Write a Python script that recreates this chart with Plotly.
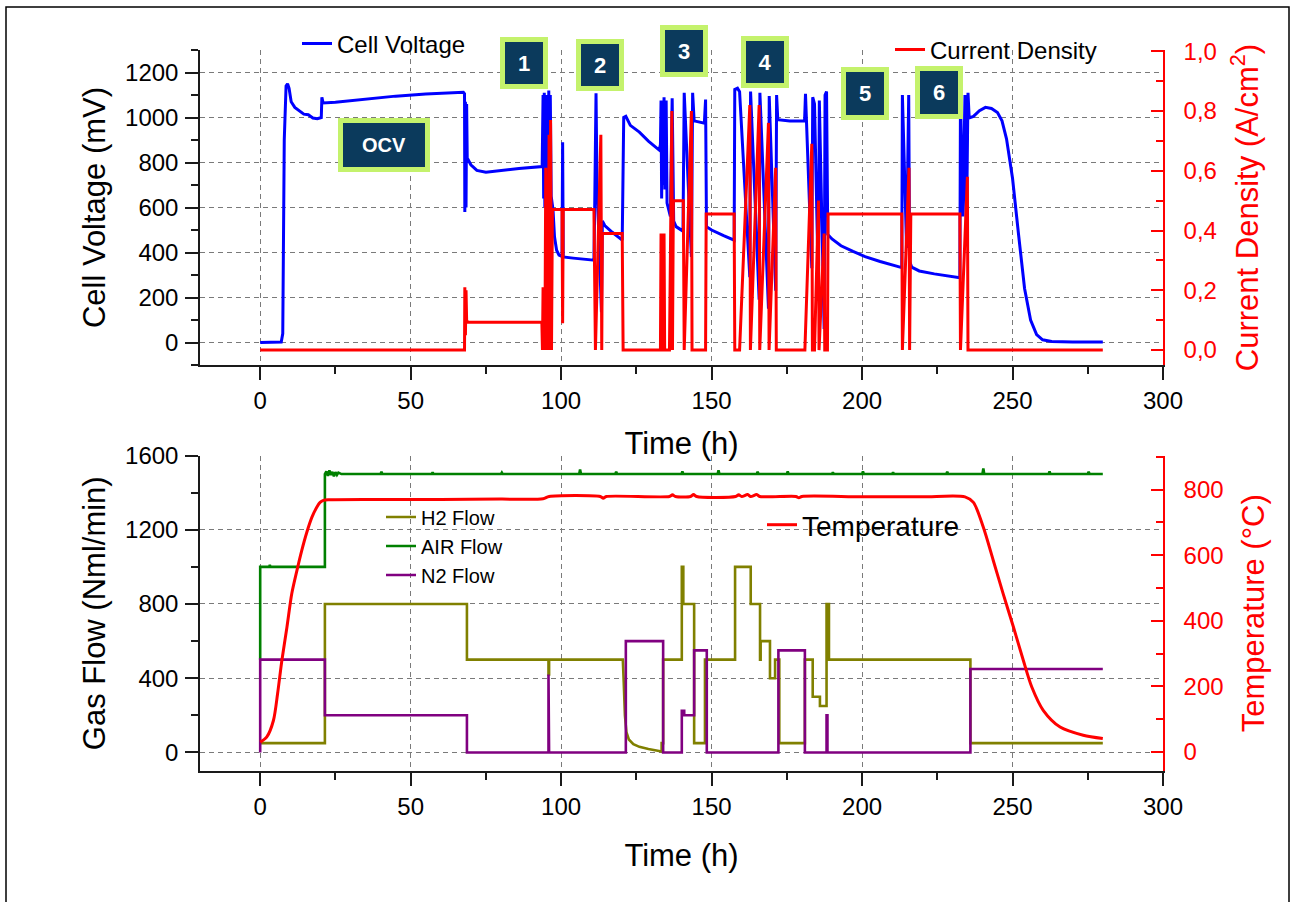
import plotly.graph_objects as go

# ---------------- data ----------------
# Cell voltage (mV) vs time (h): (time, value) pairs
cell_voltage = [
    (0, 0), (7.0, 2), (7.5, 40), (8.0, 900), (8.6, 1140), (9.1, 1150), (9.6, 1130), (10.3, 1070),
    (11.5, 1045), (13, 1030), (14.5, 1015), (16, 1012), (17.5, 998), (19, 995), (20.3, 1000),
    (20.5, 1090), (20.9, 1065), (25, 1068), (35, 1082), (45, 1095), (55, 1105), (62, 1110),
    (67.5, 1112), (67.9, 1105), (68.0, 580), (68.2, 1070), (68.4, 600), (68.6, 1060), (68.8, 820),
    (70, 790), (72, 765), (75, 757), (80, 765), (86, 773), (93.7, 782),
    (94.0, 1100), (94.2, 640), (94.4, 1110), (94.6, 600), (94.9, 1080), (95.1, 620), (95.4, 1100),
    (95.6, 590), (95.9, 1120), (96.1, 600), (96.4, 1100), (96.7, 650), (97.3, 590), (97.8, 470),
    (98.5, 410), (99.3, 388), (100.3, 382), (100.5, 890), (100.7, 380), (104, 375), (108, 370),
    (110.9, 366),
    (111.1, 540), (111.6, 1108), (111.9, 720), (113.4, 135), (113.7, 540), (114.5, 520), (117, 490),
    (120.3, 455), (120.8, 1000), (121.5, 1005), (123, 965), (126, 935), (129, 895), (132.6, 855),
    (133.0, 880), (133.2, 1075), (133.4, 640), (133.7, 1065), (133.9, 700), (134.2, 1090),
    (134.5, 680), (134.9, 1075), (135.2, 620), (136.3, 560), (136.9, 1085), (137.4, 540),
    (138.2, 515), (140.5, 495), (140.9, 1110), (143.3, 380), (143.7, 1110), (144.2, 985),
    (147.6, 975), (148.0, 1080), (148.3, 515), (150, 500), (154, 475), (157.5, 455),
    (157.7, 1125), (158.6, 1130), (159.3, 1115), (162.7, 290), (162.95, 1115), (165.8, 190),
    (166.05, 1110), (168.9, 150), (169.15, 1095), (171.3, 230), (171.6, 1100), (172.0, 990),
    (176, 985), (180.9, 985),
    (181.2, 1105), (183.3, 330), (183.6, 1090), (184.2, 1060), (185.5, 240), (185.8, 1075),
    (187.4, 60), (187.7, 1100), (188.2, 1115), (188.6, 480), (190, 460), (193, 430), (197, 405),
    (201, 382), (206, 360), (210, 345), (213.2, 333),
    (213.4, 1100), (214.8, 420), (215.5, 1100), (215.8, 360), (216.5, 335), (219, 318), (224, 305),
    (228, 297), (232.5, 288), (232.7, 1100), (233.5, 560), (234.2, 1100), (234.7, 500),
    (235.2, 1110), (235.6, 998), (237, 1005), (239, 1030), (241, 1045), (243, 1040), (245, 1022),
    (246.5, 985), (248, 905), (250, 730), (252, 480), (254, 240), (256, 100), (258, 35), (260, 12),
    (263, 5), (270, 2), (280, 2),
]

# Current density (A/cm2) vs time (h)
current_density = [
    (0, 0), (67.9, 0), (68.0, 0.21), (68.2, 0.05), (68.4, 0.2), (68.6, 0.1), (69, 0.093), (93.6, 0.093),
    (93.8, 0), (94.0, 0.21), (94.2, 0), (94.4, 0.21), (94.6, 0), (94.9, 0.61), (95.1, 0), (95.4, 0.21),
    (95.6, 0), (96.0, 0.72), (96.2, 0), (96.5, 0.77), (96.8, 0), (97.1, 0.47), (100.3, 0.47),
    (100.5, 0.09), (100.7, 0.47), (110.9, 0.47),
    (111.4, 0), (113.2, 0.72), (113.5, 0), (113.7, 0.39), (120.3, 0.39), (120.6, 0), (133.0, 0),
    (133.2, 0.39), (133.4, 0), (134.0, 0), (134.2, 0.39), (134.4, 0), (136.0, 0), (136.8, 0.8),
    (137.0, 0), (137.3, 0.5), (140.6, 0.5), (140.9, 0), (143.3, 0.8), (143.5, 0), (148.0, 0),
    (148.2, 0.455), (157.5, 0.455), (157.7, 0), (159.3, 0), (162.7, 0.82), (162.9, 0), (165.8, 0.82),
    (166.0, 0), (168.9, 0.76), (169.1, 0), (171.3, 0.61), (171.5, 0), (181.0, 0),
    (183.3, 0.69), (183.5, 0), (184.2, 0), (185.5, 0.5), (185.7, 0), (187.4, 0.39), (187.6, 0),
    (188.5, 0), (188.7, 0.455), (213.2, 0.455), (213.4, 0), (215.6, 0.61), (215.8, 0),
    (216.2, 0.455), (232.5, 0.455), (232.7, 0), (235.0, 0.58), (235.2, 0), (280, 0),
]

h2_time = [0, 21.5, 21.5, 68.7, 68.7, 95.8, 95.8, 96.0, 96.0, 120.5, 120.8, 121.2, 121.7, 122.5,
           124, 126, 129, 132, 133.4, 133.4, 133.9, 133.9, 140.1, 140.1, 140.6, 140.6, 144.2, 144.2,
           147.8, 147.8, 157.8, 157.8, 163.0, 163.0, 166.1, 166.1, 166.3, 166.3, 169.4, 169.4,
           171.1, 171.1, 172.5, 172.5, 181.0, 181.0, 183.6, 183.6, 186.0, 186.0, 188.2, 188.2,
           189.0, 189.0, 236.0, 236.0, 280]
h2_flow = [50, 50, 800, 800, 500, 500, 420, 420, 500, 500, 380, 200, 110, 70,
           45, 30, 18, 8, 5, 50, 50, 500, 500, 1000, 1000, 800, 800, 50,
           50, 500, 500, 1000, 1000, 800, 800, 500, 500, 600, 600, 400,
           400, 500, 500, 50, 50, 500, 500, 300, 300, 250, 250, 800,
           800, 500, 500, 50, 50]

air_time = [0, 0, 3, 3.2, 3.4, 21.5, 21.5, 22.0, 22.5, 23.0, 23.5, 24.0, 24.5, 25.0, 25.5, 26.0, 27.0,
            40, 40.3, 40.6, 57, 57.3, 57.6, 80, 80.3, 80.6, 106, 106.3, 106.6, 118, 118.3, 118.6,
            140, 140.3, 140.6, 152, 152.3, 152.6, 165, 165.3, 165.6, 175, 175.3, 175.6,
            190, 190.3, 190.6, 200, 200.3, 200.6, 210, 210.3, 210.6, 228, 228.3, 228.6,
            240, 240.3, 240.6, 262, 262.3, 262.6, 275, 275.3, 275.6, 280]
air_flow = [500, 1000, 1000, 1010, 1000, 1000, 1500, 1515, 1490, 1520, 1495, 1512, 1488, 1510, 1495, 1508, 1500,
            1500, 1512, 1500, 1500, 1510, 1500, 1500, 1508, 1500, 1500, 1525, 1500, 1500, 1512, 1500,
            1500, 1515, 1500, 1500, 1520, 1500, 1500, 1512, 1500, 1500, 1515, 1500,
            1500, 1510, 1500, 1500, 1515, 1500, 1500, 1510, 1500, 1500, 1512, 1500,
            1500, 1530, 1500, 1500, 1515, 1500, 1500, 1512, 1500, 1500]

n2_time = [0, 0, 21.5, 21.5, 68.7, 68.7, 95.8, 95.8, 96.0, 96.0, 121.5, 121.5, 133.9, 133.9,
           140.1, 140.1, 140.9, 140.9, 144.2, 144.2, 148.4, 148.4, 172.2, 172.2, 181.0, 181.0,
           188.2, 188.2, 188.5, 188.5, 236.0, 236.0, 280]
n2_flow = [0, 500, 500, 200, 200, 0, 0, 420, 420, 0, 0, 600, 600, 0,
           0, 225, 225, 200, 200, 550, 550, 0, 0, 550, 550, 0,
           0, 200, 200, 0, 0, 450, 450]

temp_time = [0, 2.2, 4.4, 5.8, 7.2, 8.9, 10.5, 12.2, 13.8, 15.5, 17.2, 18.8, 19.9, 21, 22.7,
             40, 60, 80, 94, 96, 113, 114, 115, 136, 137, 138, 143, 144, 145, 158, 159, 160,
             162, 163, 165, 166, 178, 179, 180, 200, 220, 234.2, 237, 240.3, 243.6, 246.9,
             250.3, 253.6, 256.4, 260.2, 265.8, 273.5, 280]
temp_c = [30, 46, 96, 179, 279, 381, 483, 553, 614, 670, 716, 746, 761, 767, 769,
          770, 770, 771, 772, 779, 779, 774, 779, 779, 784, 779, 779, 785, 779, 779, 784, 779,
          785, 779, 785, 779, 779, 775, 779, 778, 778, 778, 761, 685, 584, 482,
          381, 279, 198, 127, 76, 51, 41]

box_labels = ["OCV", "1", "2", "3", "4", "5", "6"]

# ---------------- layout geometry (pixels of the 1294x902 page) ----------------
W, H = 1294, 902
PL, PR, PT, PB = 200, 1163, 50, 771          # plot area edges


def px2paper(px, py):
    return (px - PL) / (PR - PL), (PB - py) / (PB - PT)


top_dom = [px2paper(0, 365)[1], 1.0]
bot_dom = [0.0, px2paper(0, 455.5)[1]]

FONT = "Liberation Sans, Arial, Helvetica, sans-serif"
BLACK = "#1a1a1a"
RED = "#ff0000"
GRID = dict(showgrid=True, gridcolor="#7a7a7a", gridwidth=1, griddash="5px,4px")

fig = go.Figure()

fig.add_trace(go.Scatter(x=[p[0] for p in cell_voltage], y=[p[1] for p in cell_voltage],
                         mode="lines", name="Cell Voltage", line=dict(color="#0000ff", width=3),
                         xaxis="x", yaxis="y", legend="legend"))
fig.add_trace(go.Scatter(x=[p[0] for p in current_density], y=[p[1] for p in current_density],
                         mode="lines", name="Current Density", line=dict(color=RED, width=3),
                         xaxis="x", yaxis="y2", legend="legend2"))
fig.add_trace(go.Scatter(x=h2_time, y=h2_flow, mode="lines", name="H2 Flow",
                         line=dict(color="#808000", width=2.6), xaxis="x2", yaxis="y3", legend="legend3"))
fig.add_trace(go.Scatter(x=air_time, y=air_flow, mode="lines", name="AIR Flow",
                         line=dict(color="#008000", width=2.6), xaxis="x2", yaxis="y3", legend="legend3"))
fig.add_trace(go.Scatter(x=n2_time, y=n2_flow, mode="lines", name="N2 Flow",
                         line=dict(color="#800080", width=2.6), xaxis="x2", yaxis="y3", legend="legend3"))
fig.add_trace(go.Scatter(x=temp_time, y=temp_c, mode="lines", name="Temperature",
                         line=dict(color=RED, width=3, shape="spline", smoothing=0.8),
                         xaxis="x2", yaxis="y4", legend="legend4"))


def xaxis_def(anchor, standoff):
    return dict(
        domain=[0, 1], anchor=anchor, range=[-20, 300],
        tickmode="linear", tick0=0, dtick=50,
        ticks="outside", ticklen=13, tickwidth=1.5, tickcolor=BLACK,
        showline=True, linecolor=BLACK, linewidth=1.5, zeroline=False,
        minor=dict(tick0=0, dtick=25, ticks="outside", ticklen=7, tickwidth=1.5,
                   tickcolor=BLACK, showgrid=False),
        tickfont=dict(size=24, color="black"), ticklabelstandoff=0,
        title=dict(text="Time (h)", font=dict(size=31, color="black"), standoff=standoff),
        **GRID)


def left_y(domain, anchor, rng, dtick, title):
    return dict(
        domain=domain, anchor=anchor, range=rng,
        tickmode="linear", tick0=0, dtick=dtick, tickformat="d",
        ticks="outside", ticklen=13, tickwidth=1.5, tickcolor=BLACK,
        showline=True, linecolor=BLACK, linewidth=1.5, zeroline=False,
        minor=dict(tick0=0, dtick=dtick / 2, ticks="outside", ticklen=7, tickwidth=1.5,
                   tickcolor=BLACK, showgrid=False),
        tickfont=dict(size=24, color="black"), ticklabelstandoff=2,
        title=dict(text=title, font=dict(size=31, color="black"), standoff=10),
        **GRID)


def right_y(overlay, anchor, rng, dtick, fmt, title):
    d = dict(
        overlaying=overlay, anchor=anchor, side="right", range=rng,
        tickmode="linear", tick0=0, dtick=dtick,
        ticks="inside", ticklen=12, tickwidth=1.5, tickcolor=RED,
        showline=True, linecolor=RED, linewidth=1.5, zeroline=False, showgrid=False,
        minor=dict(tick0=0, dtick=dtick / 2, ticks="inside", ticklen=7, tickwidth=1.5,
                   tickcolor=RED, showgrid=False),
        tickfont=dict(size=24, color=RED), ticklabelstandoff=14,
        title=dict(text=title, font=dict(size=31, color=RED), standoff=20))
    if fmt:
        d["tickformat"] = fmt
    return d


# number / OCV boxes: (centre px x, centre px y, inner width, inner height, font size)
box_layout = [
    (384, 144.5, 82, 44, 20),
    (524, 63, 38, 42, 22),
    (600, 64.5, 38, 42, 22),
    (683.5, 51, 38, 42, 22),
    (764.5, 62, 38, 42, 22),
    (864.5, 94, 38, 43, 22),
    (939, 93, 38, 43, 22),
]
annotations = []
for lab, (bx, by, bw, bh, fs) in zip(box_labels, box_layout):
    ax_, ay_ = px2paper(bx, by)
    annotations.append(dict(
        text="<b>%s</b>" % lab, x=ax_, y=ay_, xref="paper", yref="paper",
        xanchor="center", yanchor="middle", showarrow=False,
        width=bw, height=bh, bgcolor="#0b3a5c", bordercolor="#c4f26c",
        borderwidth=5, borderpad=0, font=dict(size=fs, color="white", family=FONT)))

fx0, fy0 = px2paper(6, 7)
fx1, fy1 = px2paper(1289, 905)

legend_common = dict(bgcolor="rgba(0,0,0,0)", borderwidth=0, xanchor="left")

fig.update_layout(
    width=W, height=H, autosize=False,
    margin=dict(l=PL, r=W - PR, t=PT, b=H - PB, pad=0),
    paper_bgcolor="white", plot_bgcolor="white",
    font=dict(family=FONT, color="black"),
    separators=",.",
    xaxis=xaxis_def("y", 20),
    yaxis=left_y(top_dom, "x", [-100, 1300], 200, "Cell Voltage (mV)"),
    yaxis2=right_y("y", "x", [-0.05, 1.004], 0.2, ".1f", "Current Density (A/cm<sup>2</sup>)"),
    xaxis2=xaxis_def("y3", 26),
    yaxis3=left_y(bot_dom, "x2", [-100, 1600], 400, "Gas Flow (Nml/min)"),
    yaxis4=right_y("y3", "x2", [-58, 904], 200, None, "Temperature (°C)"),
    showlegend=True,
    legend=dict(x=px2paper(297, 0)[0], y=px2paper(0, 44)[1], yanchor="middle",
                font=dict(size=24, color="black"), **legend_common),
    legend2=dict(x=px2paper(890, 0)[0], y=px2paper(0, 50)[1], yanchor="middle",
                 font=dict(size=24, color="black"), **legend_common),
    legend3=dict(x=px2paper(381, 0)[0], y=px2paper(0, 546)[1], yanchor="middle",
                 font=dict(size=20, color="black"), tracegroupgap=0, **legend_common),
    legend4=dict(x=px2paper(762, 0)[0], y=px2paper(0, 525)[1], yanchor="middle",
                 font=dict(size=28, color="black"), **legend_common),
    annotations=annotations,
    shapes=[dict(type="rect", xref="paper", yref="paper", x0=fx0, y0=fy1, x1=fx1, y1=fy0,
                 line=dict(color="black", width=1.5), fillcolor="rgba(0,0,0,0)", layer="above")],
)

fig.write_html("out.html", config={"displayModeBar": False},
               post_script="document.body.style.margin='0';document.body.style.overflow='hidden';")
